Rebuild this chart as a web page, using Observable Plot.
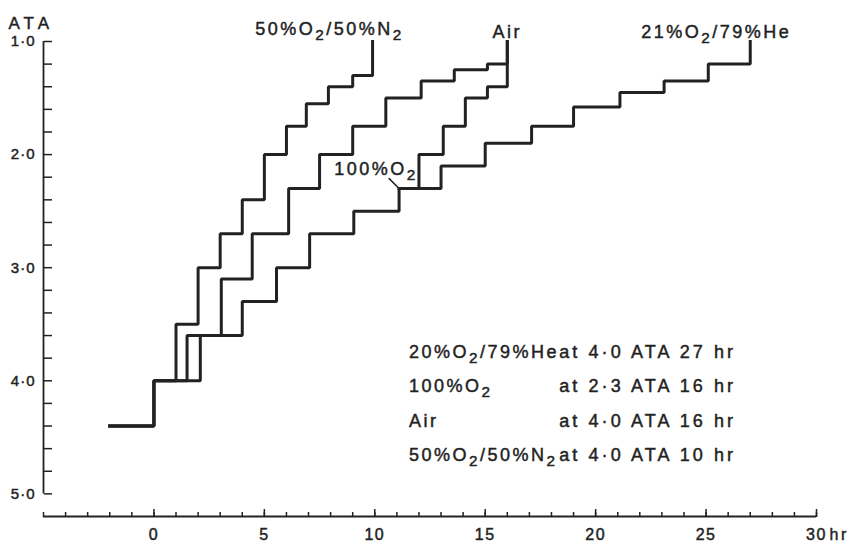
<!DOCTYPE html>
<html><head><meta charset="utf-8">
<script src="https://cdn.jsdelivr.net/npm/d3@7"></script>
<script src="https://cdn.jsdelivr.net/npm/@observablehq/plot@0.6"></script>
<style>
body{margin:0;background:#fff;}
#chart svg{font-family:"Liberation Sans",Arial,sans-serif;color:#222;}
#chart text{letter-spacing:2.5px;stroke:#222;stroke-width:0.45px;}
#chart g[aria-label="y-axis tick label"] text{letter-spacing:1px;}
#chart g[aria-label="x-axis tick label"] text{letter-spacing:1.5px;}
</style></head><body><div id="chart"></div><script>
// Decompression profiles: hours vs pressure (ATA)
const seriesNames = ["50%O₂/50%N₂", "Air", "21%O₂/79%He", "100%O₂"];
const hours5050 = [-2, 0, 1, 2, 3, 4, 5, 6, 6.9, 7.9, 9, 9.9];
const ata5050   = [4.4, 4.0, 3.5, 3.0, 2.7, 2.4, 2.0, 1.75, 1.55, 1.4, 1.3, 1.0];
const hoursAir  = [-2, 0, 1.5, 3.05, 4.45, 6.1, 7.5, 9.0, 10.5, 12.1, 13.6, 15.1, 16.0];
const ataAir    = [4.4, 4.0, 3.6, 3.1, 2.7, 2.3, 2.0, 1.75, 1.5, 1.35, 1.25, 1.2, 1.0];
const hoursHe   = [-2, 0, 2.1, 4.0, 5.55, 7.05, 9.05, 11.1, 13.0, 15.0, 17.1, 19.0, 21.1, 23.1, 25.1, 27.0];
const ataHe     = [4.4, 4.0, 3.6, 3.3, 3.0, 2.7, 2.5, 2.3, 2.1, 1.9, 1.75, 1.58, 1.45, 1.35, 1.2, 1.0];
const hoursO2   = [11.1, 12.0, 13.1, 14.1, 15.1, 16.0, 16.0];
const ataO2     = [2.3, 2.0, 1.75, 1.5, 1.4, 1.2, 1.0];

// Exposure notes
const noteGas = ["20%O₂/79%He", "100%O₂", "Air", "50%O₂/50%N₂"];
const noteExposure = ["at 4·0 ATA 27 hr", "at 2·3 ATA 16 hr", "at 4·0 ATA 16 hr", "at 4·0 ATA 10 hr"];

// Axes
const yTicks = [1.0, 1.2, 1.4, 1.6, 1.8, 2.0, 2.2, 2.4, 2.6, 2.8, 3.0, 3.2, 3.4, 3.6, 3.8, 4.0, 4.2, 4.4, 4.6, 4.8, 5.0];
const yTickLabels = [1, 2, 3, 4, 5];
const xTicks = [-5, -4, -3, -2, -1, 0, 1, 2, 3, 4, 5, 6, 7, 8, 9, 10, 11, 12, 13, 14, 15, 16, 17, 18, 19, 20, 21, 22, 23, 24, 25, 26, 27, 28, 29, 30];
const xMajorTicks = [0, 5, 10, 15, 20, 25, 30];
const xTickLabels = [0, 5, 10, 15, 20, 25, 30];
const xUnit = "hr";
const yUnit = "ATA";
const xDomain = [-5, 30];
const yDomain = [1, 5.2];

const rows = [];
const add = (name, hs, as) => hs.forEach((h, i) => rows.push({series: name, hour: h, ata: as[i]}));
add(seriesNames[0], hours5050, ata5050);
add(seriesNames[1], hoursAir, ataAir);
add(seriesNames[2], hoursHe, ataHe);
add(seriesNames[3], hoursO2, ataO2);

const ink = "#222";
const fmt = d => d.toFixed(1).replace(".", "·");
const tickShape = {draw(context, l) { context.moveTo(0, 0); context.lineTo(0, -l); }};
const only = name => d => d.series === name;

const chart = Plot.plot({
  width: 854, height: 544,
  marginLeft: 43, marginRight: 38, marginTop: 41, marginBottom: 28,
  style: {background: "#fff", color: ink, fontFamily: "'Liberation Sans', Arial, sans-serif"},
  x: {domain: xDomain, axis: null, label: null},
  y: {domain: yDomain, reverse: true, axis: null, label: null},
  marks: [
    Plot.ruleX([xDomain[0]], {y1: yTickLabels[0], y2: yTickLabels[yTickLabels.length - 1], stroke: ink, strokeWidth: 1.8}),
    Plot.ruleY([yDomain[1]], {x1: xDomain[0], x2: xDomain[1], stroke: ink, strokeWidth: 1.8}),
    Plot.axisY(yTicks, {anchor: "right", frameAnchor: "left", tickSize: 8, fill: "none", strokeWidth: 1.5, label: null}),
    Plot.axisY(yTickLabels, {anchor: "left", tickSize: 0, tickPadding: 8, tickFormat: fmt, fontSize: 15, label: null}),
    Plot.axisX(xTicks, {anchor: "top", frameAnchor: "bottom", tickSize: 5, fill: "none", strokeWidth: 1.5, label: null}),
    Plot.axisX(xMajorTicks, {anchor: "top", frameAnchor: "bottom", tickSize: 8, fill: "none", strokeWidth: 1.5, label: null}),
    Plot.axisX(xTickLabels, {anchor: "bottom", tickSize: 0, tickPadding: 12, fontSize: 16, label: null}),
    Plot.text([xUnit], {x: xDomain[1], frameAnchor: "bottom", dx: 13, dy: 12.5, lineAnchor: "top", textAnchor: "start", fontSize: 16}),
    Plot.text([yUnit], {frameAnchor: "top-left", dx: -35, dy: -24.5, textAnchor: "start", fontSize: 17}),
    Plot.line(rows, {x: "hour", y: "ata", z: "series", curve: "step-after", stroke: ink, strokeWidth: 3, strokeLinejoin: "miter", strokeLinecap: "square"}),
    Plot.text(rows, Plot.selectLast({x: "hour", y: "ata", z: "series", text: "series", filter: only(seriesNames[0]), dx: -43, dy: -12.5, fontSize: 18})),
    Plot.text(rows, Plot.selectLast({x: "hour", y: "ata", z: "series", text: "series", filter: only(seriesNames[1]), dx: 0, dy: -9.5, fontSize: 18})),
    Plot.text(rows, Plot.selectLast({x: "hour", y: "ata", z: "series", text: "series", filter: only(seriesNames[2]), dx: -34, dy: -9.5, fontSize: 18})),
    Plot.text(rows, Plot.selectFirst({x: "hour", y: "ata", z: "series", text: "series", filter: only(seriesNames[3]), dx: -23, dy: -19, fontSize: 18})),
    Plot.vector(rows, Plot.selectFirst({x: "hour", y: "ata", z: "series", filter: only(seriesNames[3]), rotate: -45, length: 14, anchor: "start", shape: tickShape, stroke: ink, strokeWidth: 1.5})),
    Plot.text([noteGas.join("\n")], {x: 11.55, y: 3.585, textAnchor: "start", lineAnchor: "top", lineHeight: 1.9, fontSize: 18}),
    Plot.text([noteExposure.join("\n")], {x: 18.35, y: 3.585, textAnchor: "start", lineAnchor: "top", lineHeight: 1.9, fontSize: 18})
  ]
});

// Per-text tracking tweaks
chart.querySelectorAll("text").forEach(t => {
  const s = t.textContent.trim();
  if (s === yUnit) t.style.letterSpacing = "5px";
  else if (s.includes(noteExposure[0])) t.style.letterSpacing = "3.1px";
});

// Render "₂" as a lowered subscript 2
(function subscriptify(root) {
  const ns = "http://www.w3.org/2000/svg";
  const walker = document.createTreeWalker(root, NodeFilter.SHOW_TEXT);
  const nodes = [];
  while (walker.nextNode()) if (walker.currentNode.nodeValue.includes("₂")) nodes.push(walker.currentNode);
  for (const n of nodes) {
    const parts = n.nodeValue.split("₂");
    const frag = document.createDocumentFragment();
    parts.forEach((p, i) => {
      if (p) frag.appendChild(document.createTextNode(p));
      if (i < parts.length - 1) {
        const t = document.createElementNS(ns, "tspan");
        t.setAttribute("style", "baseline-shift:-0.3em;font-size:0.85em");
        t.textContent = "2";
        frag.appendChild(t);
      }
    });
    n.parentNode.replaceChild(frag, n);
  }
})(chart);

document.getElementById("chart").appendChild(chart);
</script></body></html>
